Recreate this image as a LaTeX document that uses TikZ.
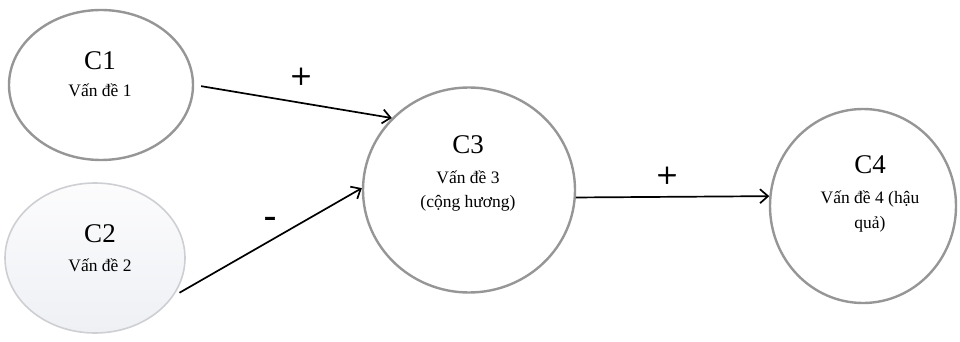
\documentclass[tikz,border=0pt]{standalone}
\usepackage{fontspec}
\setmainfont{Liberation Serif}
\newfontfamily\signfont[FakeBold=1.2]{Liberation Serif}
\usetikzlibrary{shapes.geometric,arrows.meta}
\begin{document}
\begin{tikzpicture}[x=1pt,y=-1pt,
  bubble/.style={draw={rgb,255:red,150;green,150;blue,150},line width=2.4pt,ellipse,inner sep=0pt},
  bigtxt/.style={anchor=base,font=\fontsize{27}{27}\selectfont,inner sep=0pt},
  smalltxt/.style={anchor=base,font=\fontsize{17.5}{20}\selectfont,inner sep=0pt},
  signtxt/.style={font=\signfont\fontsize{36}{36}\selectfont,inner sep=0pt},
  arr/.style={line width=1.7pt,-{Straight Barb[length=8pt,width=14pt]}}]
\useasboundingbox (0,0) rectangle (960,342);
\node[bubble,minimum width=184pt,minimum height=150pt] (c1) at (101,85) {};
\node[bubble,draw={rgb,255:red,205;green,207;blue,211},line width=1.6pt,
  top color={rgb,255:red,252;green,252;blue,253},bottom color={rgb,255:red,238;green,240;blue,244},
  minimum width=180pt,minimum height=150pt] (c2) at (95,258) {};
\node[bubble,minimum width=212pt,minimum height=205pt] (c3) at (469,190) {};
\node[bubble,minimum width=186pt,minimum height=194pt] (c4) at (863,206) {};
\node[bigtxt] (t1) at (100,70) {C1};
\node[smalltxt] (s1) at (100,97) {Vấn đề 1};
\node[bigtxt] (t2) at (100,242) {C2};
\node[smalltxt] (s2) at (100,271) {Vấn đề 2};
\node[bigtxt] (t3) at (468,153) {C3};
\node[smalltxt] (s3a) at (468,183) {Vấn đề 3};
\node[smalltxt] (s3b) at (468,207) {(cộng hương)};
\node[bigtxt] (t4) at (870,173) {C4};
\node[smalltxt] (s4a) at (870,203) {Vấn đề 4 (hậu};
\node[smalltxt] (s4b) at (870,228) {quả)};
\draw[arr,shorten <=7pt] (c1.east) -- (c3.137);
\draw[arr,shorten <=7pt] (c2.-26) -- (c3.179);
\draw[arr] (c3.-4) -- (c4.174);
\node[signtxt] (p1) at (301,78) {+};
\node[signtxt] (m1) at (270,222) {-};
\node[signtxt] (p2) at (667,177) {+};
\end{tikzpicture}
\end{document}
